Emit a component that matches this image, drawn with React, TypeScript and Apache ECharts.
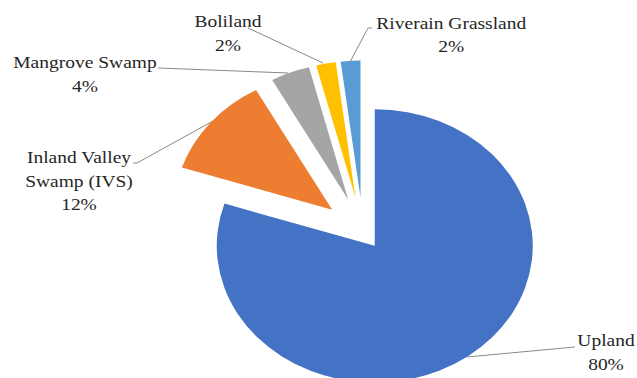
import React, { useEffect, useRef } from 'react';
import * as echarts from 'echarts';

// ---- data ----
const categories = ['Upland', 'Inland Valley Swamp (IVS)', 'Mangrove Swamp', 'Boliland', 'Riverain Grassland'];
const labelNames = ['Upland', 'Inland Valley\nSwamp (IVS)', 'Mangrove Swamp', 'Boliland', 'Riverain Grassland'];
const shares = [80, 12, 4, 2, 2];

// ---- style / layout ----
const colors = ['#4472C4', '#ED7D31', '#A5A5A5', '#FFC000', '#5B9BD5'];
const explode = [20, 40, 40, 40, 40];
const W = 637;
const H = 378;
const SY = 0.865; // vertical squash of the reference
const HU = H / SY;
const PIE_C = [363, 268];
const PIE_R = 158;
// label block centres (reference px) and leader line points (reference px)
const labelAnchors = [[606, 352.5], [79, 181.2], [85, 74.5], [228, 33.6], [451.3, 34.8]];
const leaderLines = [
  [[467, 357], [575, 347], [575, 347]],
  [[213, 121], [137, 163], [133, 163]],
  [[288, 73], [158, 68], [158, 68]],
  [[323, 63], [248, 28], [248, 28]],
  [[350, 62], [368, 28], [372, 28]],
];

export default function App() {
  const ref = useRef<HTMLDivElement>(null);
  useEffect(() => {
    const chart = echarts.init(ref.current!, null, { renderer: 'svg' });
    const total = shares.reduce((a, b) => a + b, 0);
    const toY = (y: number) => y / SY;
    let cum = 0;
    const series = shares.map((v, i) => {
      const mid = (cum + v / 2) / total;
      cum += v;
      const th = mid * Math.PI * 2;
      const cx = PIE_C[0] + Math.sin(th) * explode[i];
      const cy = PIE_C[1] - Math.cos(th) * explode[i];
      return {
        type: 'pie',
        center: [cx, cy],
        radius: PIE_R,
        startAngle: 90,
        clockwise: true,
        silent: true,
        avoidLabelOverlap: false,
        emphasis: { disabled: true },
        itemStyle: { borderWidth: 0 },
        label: {
          position: 'outside',
          fontFamily: "'Liberation Serif', serif",
          fontSize: 19.5,
          lineHeight: 27,
          color: '#262626',
          align: 'center',
          formatter: (p: any) => `${labelNames[p.dataIndex]}\n${Math.round(p.percent)}%`,
        },
        labelLine: { show: true, smooth: false, lineStyle: { color: '#7f7f7f', width: 1 } },
        labelLayout: (p: any) => {
          const k = p.dataIndex;
          const a = labelAnchors[k];
          return {
            x: a[0],
            y: toY(a[1]),
            align: 'center',
            verticalAlign: 'middle',
            hideOverlap: false,
            labelLinePoints: leaderLines[k].map(([x, y]) => [x, toY(y)]),
          };
        },
        data: shares.map((val, j) => {
          const on = j === i;
          return {
            value: val,
            name: categories[j],
            itemStyle: { color: on ? colors[j] : 'rgba(0,0,0,0)', borderWidth: 0 },
            label: { show: on },
            labelLine: { show: on },
          };
        }),
      };
    });
    chart.setOption({ animation: false, series } as any);
    return () => chart.dispose();
  }, []);
  return (
    <div style={{ position: 'absolute', left: 0, top: 0, width: W, height: H, overflow: 'hidden', background: '#fff' }}>
      <div ref={ref} style={{ width: W, height: HU, transform: `scaleY(${SY})`, transformOrigin: '0 0' }} />
    </div>
  );
}
